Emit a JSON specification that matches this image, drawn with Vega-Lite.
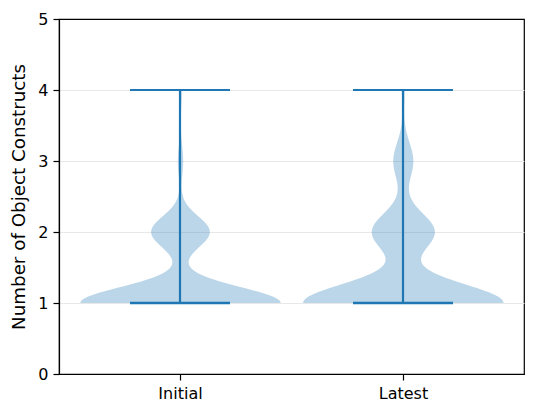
{
  "$schema": "https://vega.github.io/schema/vega-lite/v6.json",
  "width": 465,
  "height": 355,
  "autosize": {"type": "none"},
  "padding": {"left": 59, "top": 19, "right": 12, "bottom": 42},
  "background": "white",
  "config": {
    "font": "DejaVu Sans",
    "view": {"stroke": "black", "strokeWidth": 1.2},
    "axis": {
      "labelFont": "DejaVu Sans",
      "titleFont": "DejaVu Sans",
      "labelFontSize": 16,
      "titleFontSize": 18.3,
      "titleFontWeight": "normal",
      "labelColor": "black",
      "titleColor": "black",
      "domainColor": "black",
      "domainWidth": 1.2,
      "tickColor": "black",
      "tickWidth": 1.2,
      "tickSize": 6,
      "labelPadding": 5
    }
  },
  "data": {
    "values": [
      {"g":"Initial","n":1},{"g":"Initial","n":1},{"g":"Initial","n":1},{"g":"Initial","n":1},{"g":"Initial","n":1},
      {"g":"Initial","n":1},{"g":"Initial","n":1},{"g":"Initial","n":1},{"g":"Initial","n":1},{"g":"Initial","n":1},
      {"g":"Initial","n":1},{"g":"Initial","n":1},{"g":"Initial","n":1},{"g":"Initial","n":1},{"g":"Initial","n":1},
      {"g":"Initial","n":1},{"g":"Initial","n":1},{"g":"Initial","n":1},{"g":"Initial","n":1},{"g":"Initial","n":1},
      {"g":"Initial","n":1},{"g":"Initial","n":1},{"g":"Initial","n":1},{"g":"Initial","n":1},{"g":"Initial","n":1},
      {"g":"Initial","n":1},{"g":"Initial","n":1},{"g":"Initial","n":1},{"g":"Initial","n":1},{"g":"Initial","n":1},
      {"g":"Initial","n":1},{"g":"Initial","n":1},{"g":"Initial","n":1},{"g":"Initial","n":1},{"g":"Initial","n":1},
      {"g":"Initial","n":1},{"g":"Initial","n":1},{"g":"Initial","n":1},{"g":"Initial","n":1},{"g":"Initial","n":1},
      {"g":"Initial","n":1},{"g":"Initial","n":1},{"g":"Initial","n":1},{"g":"Initial","n":1},{"g":"Initial","n":1},
      {"g":"Initial","n":1},{"g":"Initial","n":1},{"g":"Initial","n":1},{"g":"Initial","n":1},{"g":"Initial","n":1},
      {"g":"Initial","n":1},{"g":"Initial","n":1},{"g":"Initial","n":1},{"g":"Initial","n":1},{"g":"Initial","n":1},
      {"g":"Initial","n":1},{"g":"Initial","n":1},{"g":"Initial","n":1},{"g":"Initial","n":1},{"g":"Initial","n":1},
      {"g":"Initial","n":1},{"g":"Initial","n":1},{"g":"Initial","n":1},{"g":"Initial","n":1},{"g":"Initial","n":1},
      {"g":"Initial","n":1},{"g":"Initial","n":1},{"g":"Initial","n":1},{"g":"Initial","n":1},{"g":"Initial","n":1},
      {"g":"Initial","n":1},{"g":"Initial","n":1},{"g":"Initial","n":1},{"g":"Initial","n":1},{"g":"Initial","n":1},
      {"g":"Initial","n":2},{"g":"Initial","n":2},{"g":"Initial","n":2},{"g":"Initial","n":2},{"g":"Initial","n":2},
      {"g":"Initial","n":2},{"g":"Initial","n":2},{"g":"Initial","n":2},{"g":"Initial","n":2},{"g":"Initial","n":2},
      {"g":"Initial","n":2},{"g":"Initial","n":2},{"g":"Initial","n":2},{"g":"Initial","n":2},{"g":"Initial","n":2},
      {"g":"Initial","n":2},{"g":"Initial","n":2},{"g":"Initial","n":2},{"g":"Initial","n":2},{"g":"Initial","n":2},
      {"g":"Initial","n":2},{"g":"Initial","n":2},
      {"g":"Initial","n":3},{"g":"Initial","n":3},
      {"g":"Initial","n":4},
      {"g":"Latest","n":1},{"g":"Latest","n":1},{"g":"Latest","n":1},{"g":"Latest","n":1},{"g":"Latest","n":1},
      {"g":"Latest","n":1},{"g":"Latest","n":1},{"g":"Latest","n":1},{"g":"Latest","n":1},{"g":"Latest","n":1},
      {"g":"Latest","n":1},{"g":"Latest","n":1},{"g":"Latest","n":1},{"g":"Latest","n":1},{"g":"Latest","n":1},
      {"g":"Latest","n":1},{"g":"Latest","n":1},{"g":"Latest","n":1},{"g":"Latest","n":1},{"g":"Latest","n":1},
      {"g":"Latest","n":1},{"g":"Latest","n":1},{"g":"Latest","n":1},{"g":"Latest","n":1},{"g":"Latest","n":1},
      {"g":"Latest","n":1},{"g":"Latest","n":1},{"g":"Latest","n":1},{"g":"Latest","n":1},{"g":"Latest","n":1},
      {"g":"Latest","n":1},{"g":"Latest","n":1},{"g":"Latest","n":1},{"g":"Latest","n":1},{"g":"Latest","n":1},
      {"g":"Latest","n":1},{"g":"Latest","n":1},{"g":"Latest","n":1},{"g":"Latest","n":1},{"g":"Latest","n":1},
      {"g":"Latest","n":1},{"g":"Latest","n":1},{"g":"Latest","n":1},{"g":"Latest","n":1},{"g":"Latest","n":1},
      {"g":"Latest","n":1},{"g":"Latest","n":1},{"g":"Latest","n":1},{"g":"Latest","n":1},{"g":"Latest","n":1},
      {"g":"Latest","n":1},{"g":"Latest","n":1},{"g":"Latest","n":1},{"g":"Latest","n":1},{"g":"Latest","n":1},
      {"g":"Latest","n":1},{"g":"Latest","n":1},{"g":"Latest","n":1},{"g":"Latest","n":1},{"g":"Latest","n":1},
      {"g":"Latest","n":1},{"g":"Latest","n":1},{"g":"Latest","n":1},{"g":"Latest","n":1},{"g":"Latest","n":1},
      {"g":"Latest","n":1},{"g":"Latest","n":1},{"g":"Latest","n":1},{"g":"Latest","n":1},{"g":"Latest","n":1},
      {"g":"Latest","n":2},{"g":"Latest","n":2},{"g":"Latest","n":2},{"g":"Latest","n":2},{"g":"Latest","n":2},
      {"g":"Latest","n":2},{"g":"Latest","n":2},{"g":"Latest","n":2},{"g":"Latest","n":2},{"g":"Latest","n":2},
      {"g":"Latest","n":2},{"g":"Latest","n":2},{"g":"Latest","n":2},{"g":"Latest","n":2},{"g":"Latest","n":2},
      {"g":"Latest","n":2},{"g":"Latest","n":2},{"g":"Latest","n":2},{"g":"Latest","n":2},{"g":"Latest","n":2},
      {"g":"Latest","n":2},{"g":"Latest","n":2},
      {"g":"Latest","n":3},{"g":"Latest","n":3},{"g":"Latest","n":3},{"g":"Latest","n":3},{"g":"Latest","n":3},
      {"g":"Latest","n":3},{"g":"Latest","n":3},
      {"g":"Latest","n":4}
    ]
  },
  "resolve": {"scale": {"x": "independent"}},
  "layer": [
    {
      "transform": [
        {"aggregate": [{"op": "min", "field": "n", "as": "lo"}, {"op": "max", "field": "n", "as": "hi"}], "groupby": ["g"]}
      ],
      "encoding": {
        "x": {"field": "g", "type": "nominal", "sort": ["Initial", "Latest"],
              "scale": {"type": "point", "padding": 0.5426},
              "axis": {"title": null, "labelAngle": 0, "grid": false}}
      },
      "layer": [
        {
          "mark": {"type": "rule", "color": "#1f77b4", "strokeWidth": 2.2},
          "encoding": {
            "y": {"field": "lo", "type": "quantitative", "title": "Number of Object Constructs",
                  "scale": {"domain": [0, 5], "nice": false},
                  "axis": {"values": [0, 1, 2, 3, 4, 5], "format": "d", "grid": true,
                           "gridColor": "#e8e8e8", "gridWidth": 1,
                           "gridOpacity": {"condition": {"test": "datum.value == 0 || datum.value == 5", "value": 0}, "value": 1},
                           "titlePadding": 9}},
            "y2": {"field": "hi"}
          }
        },
        {
          "mark": {"type": "tick", "color": "#1f77b4", "size": 100, "thickness": 2.2, "opacity": 1},
          "encoding": {
            "y": {"field": "hi", "type": "quantitative", "title": "Number of Object Constructs"}
          }
        },
        {
          "mark": {"type": "tick", "color": "#1f77b4", "size": 100, "thickness": 2.6, "opacity": 1},
          "encoding": {
            "y": {"field": "lo", "type": "quantitative", "title": "Number of Object Constructs"}
          }
        }
      ]
    },
    {
      "transform": [
        {"filter": "datum.g === 'Initial'"},
        {"density": "n", "extent": [1, 4], "bandwidth": 0.2213, "steps": 100}
      ],
      "mark": {"type": "area", "orient": "horizontal", "color": "#1f77b4", "opacity": 0.3},
      "encoding": {
        "y": {"field": "value", "type": "quantitative", "title": "Number of Object Constructs"},
        "x": {"field": "density", "type": "quantitative", "stack": "center", "impute": null,
              "scale": {"range": [21.2, 221.8], "nice": false}, "axis": null}
      }
    },
    {
      "transform": [
        {"filter": "datum.g === 'Latest'"},
        {"density": "n", "extent": [1, 4], "bandwidth": 0.2648, "steps": 100}
      ],
      "mark": {"type": "area", "orient": "horizontal", "color": "#1f77b4", "opacity": 0.3},
      "encoding": {
        "y": {"field": "value", "type": "quantitative", "title": "Number of Object Constructs"},
        "x": {"field": "density", "type": "quantitative", "stack": "center", "impute": null,
              "scale": {"range": [244, 444.6], "nice": false}, "axis": null}
      }
    }
  ]
}
